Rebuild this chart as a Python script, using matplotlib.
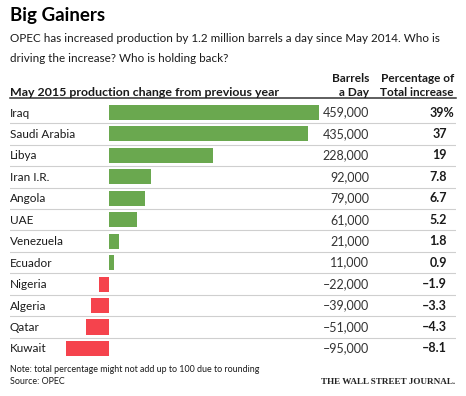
import matplotlib.pyplot as plt
from matplotlib.transforms import blended_transform_factory

plt.rcParams['font.family'] = ['Lato', 'DejaVu Sans']

countries = ['Iraq', 'Saudi Arabia', 'Libya', 'Iran I.R.', 'Angola', 'UAE',
             'Venezuela', 'Ecuador', 'Nigeria', 'Algeria', 'Qatar', 'Kuwait']
barrels = [459000, 435000, 228000, 92000, 79000, 61000,
           21000, 11000, -22000, -39000, -51000, -95000]
pct = [39, 37, 19, 7.8, 6.7, 5.2, 1.8, 0.9, -1.9, -3.3, -4.3, -8.1]

GREEN = '#6aa84f'
RED = '#f5434d'
TEXT = '#1a1a1a'

W, H = 466, 396
fig = plt.figure(figsize=(W / 100, H / 100), dpi=100)


def ftext(x, y, s, **kw):
    # place text using pixel coords measured from top-left
    kw.setdefault('color', TEXT)
    fig.text(x / W, 1 - y / H, s, **kw)


# title block
ftext(10, 21, 'Big Gainers', fontsize=13.5, fontweight='bold', color='black')
ftext(10, 42, 'OPEC has increased production by 1.2 million barrels a day since May 2014. Who is',
      fontsize=8.4)
ftext(10, 62, 'driving the increase? Who is holding back?', fontsize=8.4)

# column headers
ftext(10, 95.5, 'May 2015 production change from previous year', fontsize=8.9, fontweight='bold')
ftext(369, 82, 'Barrels', fontsize=8.6, fontweight='bold', ha='right')
ftext(369, 96, 'a Day', fontsize=8.6, fontweight='bold', ha='right')
ftext(454, 82, 'Percentage of', fontsize=8.5, fontweight='bold', ha='right')
ftext(454, 96, 'Total increase', fontsize=8.5, fontweight='bold', ha='right')

# bar area: zero line sits at x=109px, Iraq bar ends at x=319px
top_px, row_px = 112.5, 21.45
y_top = top_px - row_px / 2
y_bot = top_px + 11 * row_px + row_px / 2
ax = fig.add_axes([10 / W, 1 - y_bot / H, 446 / W, (y_bot - y_top) / H])
ax.axis('off')
scale = 210 / 459000
ax.set_xlim(-99 / scale, 347 / scale)
ax.set_ylim(len(countries) - 0.5, -0.5)

colors = [GREEN if v > 0 else RED for v in barrels]
ax.barh(range(len(countries)), barrels, height=0.7, color=colors)

# separators
for i in range(len(countries) - 1):
    ax.axhline(i + 0.5, color='#cfcfcf', lw=0.8)
ax.plot([0, 1], [-0.5 - 3.8 / row_px] * 2, transform=blended_transform_factory(ax.transAxes, ax.transData),
        color='#333333', lw=1.1, clip_on=False)

tr = blended_transform_factory(ax.transAxes, ax.transData)
xval = (369 - 10) / 446
xpct = (447 - 10) / 446
for i, (name, v, p) in enumerate(zip(countries, barrels, pct)):
    yb = i + 4 / row_px
    ax.text(0, yb, name, transform=tr, fontsize=8.5, color=TEXT, va='baseline')
    ax.text(xval, yb, f'{v:,}'.replace('-', '\u2013'), transform=tr, fontsize=9,
            color='#333333', va='baseline', ha='right')
    s = f'{p:.0f}' if abs(p) >= 10 else f'{p:.1f}'
    s = s.replace('-', '\u2013')
    if i == 0:
        ax.text((454 - 10) / 446, yb, s + '%', transform=tr, fontsize=9, fontweight='bold',
                color=TEXT, va='baseline', ha='right')
    else:
        ax.text(xpct, yb, s, transform=tr, fontsize=9,
                fontweight='bold', color=TEXT, va='baseline', ha='right')

# footer
ftext(10, 372, 'Note: total percentage might not add up to 100 due to rounding', fontsize=6.4)
ftext(10, 384, 'Source: OPEC', fontsize=6.4)
ftext(455, 384, 'THE WALL STREET JOURNAL.', fontsize=6.6, fontweight='bold',
      family='Liberation Serif', ha='right', color='#222222')

fig.savefig('out.png', dpi=100)
